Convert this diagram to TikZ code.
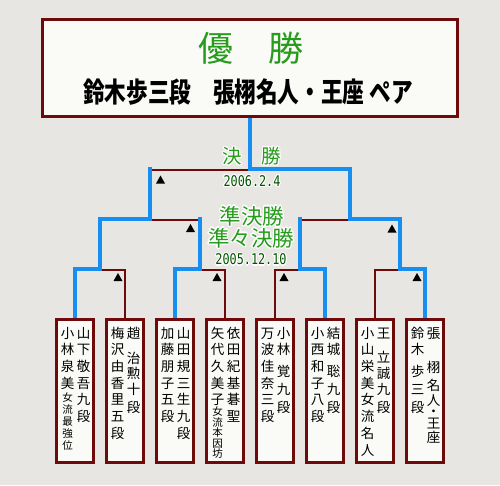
\documentclass[tikz,border=0pt]{standalone}
\usepackage{fontspec}
\newfontfamily\jp{Noto Sans CJK JP}
\newfontfamily\mono{DejaVu Sans Mono}
\definecolor{bg}{RGB}{232,230,226}
\definecolor{boxfill}{RGB}{250,250,246}
\definecolor{darkred}{RGB}{110,10,10}
\definecolor{winblue}{RGB}{22,142,242}
\definecolor{callig}{RGB}{38,155,28}
\definecolor{dategreen}{RGB}{0,85,0}
\pgfdeclarelayer{back}
\pgfsetlayers{back,main}
\newsavebox\halobox
\newcommand\halo[2]{%
 \sbox\halobox{\color{white}#2}%
 \rlap{\kern-1.2pt\usebox\halobox}%
 \rlap{\kern1.2pt\usebox\halobox}%
 \rlap{\raisebox{1.2pt}{\usebox\halobox}}%
 \rlap{\raisebox{-1.2pt}{\usebox\halobox}}%
 \rlap{\kern.85pt\raisebox{.85pt}{\usebox\halobox}}%
 \rlap{\kern-.85pt\raisebox{.85pt}{\usebox\halobox}}%
 \rlap{\kern.85pt\raisebox{-.85pt}{\usebox\halobox}}%
 \rlap{\kern-.85pt\raisebox{-.85pt}{\usebox\halobox}}%
 {\color{#1}#2}}
\newcommand\pcol[4]{%
 \foreach \c/\yy [count=\i] in {#4} \node[#3] (#1-\i) at (#2,\yy) {\c};}
\newcommand\tri[1]{\fill[black] (#1) ++(-4.5,4) -- ++(9,0) -- ++(-4.5,-8) -- cycle;}
\begin{document}
\begin{tikzpicture}[x=1pt,y=-1pt,
  win/.style={draw=winblue,line width=4pt,line cap=rect,line join=miter},
  lose/.style={draw=darkred,line width=2pt,line cap=rect},
  plbox/.style={draw=darkred,line width=3pt,fill=boxfill,minimum width=37pt,minimum height=143pt,inner sep=0pt},
  topbox/.style={draw=darkred,line width=3pt,fill=boxfill,minimum width=415pt,minimum height=97pt,inner sep=0pt},
  cj/.style={font=\jp\fontsize{13.5}{14}\selectfont,inner sep=0pt,text height=11.9pt,text depth=1.6pt},
  cjs/.style={font=\jp\fontsize{10.5}{11}\selectfont,inner sep=0pt,text height=9.2pt,text depth=1.3pt},
  lbl/.style={inner sep=0pt}
]
\useasboundingbox (0,0) rectangle (500,485);
% boxes
\node[topbox] (top) at (250,68) {};
\node[plbox] (p1) at (75,391) {};
\node[plbox] (p2) at (125,391) {};
\node[plbox] (p3) at (175,391) {};
\node[plbox] (p4) at (225,391) {};
\node[plbox] (p5) at (275,391) {};
\node[plbox] (p6) at (325,391) {};
\node[plbox] (p7) at (375,391) {};
\node[plbox] (p8) at (425,391) {};
% junctions
\coordinate (f) at (250,168.5);
\coordinate (fr) at (250,170);
\coordinate (s1) at (150,218.5);
\coordinate (s2) at (350,218.5);
\coordinate (q1) at (100,268.5);
\coordinate (q2) at (200,268.5);
\coordinate (q3) at (300,268.5);
\coordinate (q4) at (400,268.5);
\coordinate (sr) at (0,220);
\coordinate (qr) at (0,270);
\begin{pgfonlayer}{back}
\fill[bg] (0,0) rectangle (500,485);
% losers
\draw[lose] (s1 |- fr) -- (fr);
\draw[lose] (s1 |- sr) -- (q2 |- sr);
\draw[lose] (s2 |- sr) -- (q3 |- sr);
\draw[lose] (q1 |- qr) -| (p2.north);
\draw[lose] (q2 |- qr) -| (p4.north);
\draw[lose] (q3 |- qr) -| (p5.north);
\draw[lose] (q4 |- qr) -| (p7.north);
% winners
\draw[win] (top.south) -- (f) -| (s2) -| (q4) -| (p8.north);
\draw[win] (s1 |- f) -- (s1) -| (q1) -| (p1.north);
\draw[win] (q2 |- s1) -- (q2) -| (p3.north);
\draw[win] (q3 |- s2) -- (q3) -| (p6.north);
\end{pgfonlayer}
% titles
\node[lbl,text height=30.8pt,text depth=4.2pt] (t1) at (251,48) {\jp\fontsize{35}{35}\selectfont\color{callig}優　勝};
\node[lbl] (t2) at (248,92) {\scalebox{0.94}[1.2]{\jp\bfseries\fontsize{23}{23}\selectfont 鈴木歩三段　張栩名人・王座 ペア}};
\node[lbl,text height=17.2pt,text depth=2.3pt] (lf) at (252,156) {\halo{callig}{\jp\fontsize{19.5}{20}\selectfont 決　勝}};
\node[lbl] (df) at (252,181) {\halo{dategreen}{\scalebox{1}[1.25]{\mono\fontsize{11.8}{12}\selectfont 2006.2.4}}};
\node[lbl,text height=18.9pt,text depth=2.6pt] (ls) at (252,216) {\halo{callig}{\jp\fontsize{21.5}{22}\selectfont 準決勝}};
\node[lbl,text height=18.9pt,text depth=2.6pt] (lq) at (251,238) {\halo{callig}{\jp\fontsize{21.5}{22}\selectfont 準々決勝}};
\node[lbl] (dq) at (251,259.5) {\halo{dategreen}{\scalebox{1}[1.25]{\mono\fontsize{11.8}{12}\selectfont 2005.12.10}}};
% triangles
\coordinate (m0) at (160.5,179.5);
\coordinate (m1) at (190.5,228);
\coordinate (m2) at (392,228.5);
\coordinate (m3) at (118,277);
\coordinate (m4) at (217,277);
\coordinate (m5) at (284,277);
\coordinate (m6) at (417,277);
\tri{m0}\tri{m1}\tri{m2}\tri{m3}\tri{m4}\tri{m5}\tri{m6}
% player texts
\pcol{a1r}{83.5}{cj}{山/333,下/349.7,敬/366.4,吾/383.1,九/399.8,段/416.5}
\pcol{a1l}{67.5}{cj}{小/333,林/349.7,泉/366.4,美/383.1}
\pcol{a1s}{67.5}{cjs}{女/398,流/410,最/421.7,強/433.3,位/445.5}
\pcol{a2r}{133.5}{cj}{趙/333,治/358,勲/373.5,十/389.5,段/407}
\pcol{a2l}{117.5}{cj}{梅/333,沢/349.7,由/366.4,香/383.1,里/399.8,五/416.5,段/433.2}
\pcol{a3r}{183.5}{cj}{山/333,田/349.7,規/366.4,三/383.1,生/399.8,九/416.5,段/433.2}
\pcol{a3l}{167.5}{cj}{加/333,藤/349.7,朋/366.4,子/383.1,五/399.8,段/416.5}
\pcol{a4r}{233.5}{cj}{依/333,田/349.7,紀/366.4,基/383.1,碁/399.8,聖/416.5}
\pcol{a4l}{217.5}{cj}{矢/333,代/349.7,久/366.4,美/383.1,子/399.8}
\pcol{a4s}{217.5}{cjs}{女/412,流/422.5,本/433,因/443.5,坊/454}
\pcol{a5r}{283.5}{cj}{小/333,林/349.7,覚/371.5,九/389.5,段/407.5}
\pcol{a5l}{267.5}{cj}{万/333,波/349.7,佳/366.4,奈/383.1,三/399.8,段/416.5}
\pcol{a6r}{333.5}{cj}{結/333,城/349.7,聡/371.5,九/389.5,段/407.5}
\pcol{a6l}{317.5}{cj}{小/333,西/349.7,和/366.4,子/383.1,八/399.8,段/416.5}
\pcol{a7r}{383.5}{cj}{王/333,立/357,誠/373.5,九/389.5,段/407.5}
\pcol{a7l}{367.5}{cj}{小/333,山/349.7,栄/366.4,美/383.1,女/399.8,流/416.5,名/433.2,人/449.9}
\pcol{a8r}{433.5}{cj}{張/333,栩/367,名/385,人/400,・/411,王/423,座/437}
\pcol{a8l}{417.5}{cj}{鈴/333,木/349.7,歩/371.5,三/389.5,段/407.5}
\end{tikzpicture}
\end{document}
